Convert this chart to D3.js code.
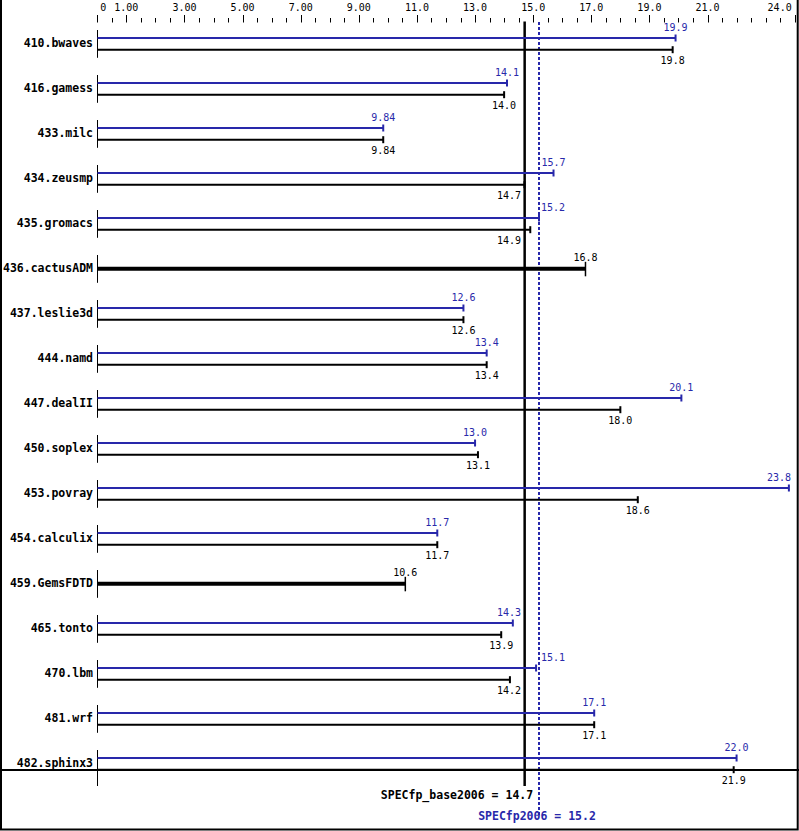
<!DOCTYPE html>
<html><head><meta charset="utf-8">
<script src="https://cdn.jsdelivr.net/npm/d3@7"></script>
<style>html,body{margin:0;padding:0;background:#fff}svg{display:block}</style>
</head><body>
<script>
const benchmarks = ["410.bwaves","416.gamess","433.milc","434.zeusmp","435.gromacs","436.cactusADM","437.leslie3d","444.namd","447.dealII","450.soplex","453.povray","454.calculix","459.GemsFDTD","465.tonto","470.lbm","481.wrf","482.sphinx3"];
const baseValues = [19.8,14.0,9.84,14.7,14.9,16.8,12.6,13.4,18.0,13.1,18.6,11.7,10.6,13.9,14.2,17.1,21.9];
const peakValues = [19.9,14.1,9.84,15.7,15.2,null,12.6,13.4,20.1,13.0,23.8,11.7,null,14.3,15.1,17.1,22.0];
const tickValues = [0,1,3,5,7,9,11,13,15,17,19,21,24];
const tickLabels = ["0","1.00","3.00","5.00","7.00","9.00","11.0","13.0","15.0","17.0","19.0","21.0","24.0"];
const baseMean = 14.7, peakMean = 15.2;
const baseTitle = "SPECfp_base2006 = 14.7";
const peakTitle = "SPECfp2006 = 15.2";

const W = 799, H = 831;
const BLUE = "#2828aa", MONO = "'DejaVu Sans Mono', monospace";
const svg = d3.select("body").append("svg").attr("width", W).attr("height", H);
svg.append("rect").attr("width", W).attr("height", H).attr("fill", "#fff");

const x = d3.scaleLinear().domain([0, 24]).range([97.3, 794.7]);
const y = d3.scalePoint().domain(benchmarks).range([43.3, 763.3]);
const fmt = d3.format(".3r");

// border
svg.append("path").attr("d", `M1,0V829.5H797.7V0`).attr("fill","none").attr("stroke","#000").attr("stroke-width",2);

// top axis ticks
const axisY = 22.5;
svg.append("g").selectAll("line").data(d3.range(0, 24.001, 0.5)).join("line")
  .attr("x1", d => Math.round(x(d)) + 0.5).attr("x2", d => Math.round(x(d)) + 0.5)
  .attr("y1", d => tickValues.includes(d) ? axisY - 7.5 : axisY - 4.5).attr("y2", axisY)
  .attr("stroke", "#000").attr("stroke-width", 1);
svg.append("g").selectAll("text").data(tickValues).join("text")
  .attr("x", (d, i) => i === 0 ? x(d) + 3 : i === tickValues.length - 1 ? x(d) - 3 : x(d))
  .attr("y", 11)
  .attr("text-anchor", (d, i) => i === 0 ? "start" : i === tickValues.length - 1 ? "end" : "middle")
  .attr("font-family", MONO).attr("font-size", 10).attr("fill", "#000")
  .text((d, i) => tickLabels[i]);

// mean lines
const xb = x(baseMean) + 0.2, xp = Math.round(x(peakMean));
svg.append("line").attr("x1", xb).attr("x2", xb).attr("y1", 21.5).attr("y2", 786)
  .attr("stroke", "#000").attr("stroke-width", 2.5);
svg.append("line").attr("x1", xp).attr("x2", xp).attr("y1", 22).attr("y2", 815)
  .attr("stroke", BLUE).attr("stroke-width", 2).attr("stroke-dasharray", "3,2");

// separator
svg.append("line").attr("x1", 0).attr("x2", W).attr("y1", 770).attr("y2", 770)
  .attr("stroke", "#000").attr("stroke-width", 2);

const rows = svg.append("g");
benchmarks.forEach((name, i) => {
  const cy = y(name);
  const g = rows.append("g");
  const last = i === benchmarks.length - 1;
  g.append("line").attr("x1", 97.5).attr("x2", 97.5).attr("y1", cy - 13.3).attr("y2", last ? 786 : cy + 14.5)
    .attr("stroke", "#000").attr("stroke-width", 1);
  g.append("text").attr("x", 93).attr("y", cy + 4).attr("text-anchor", "end")
    .attr("font-family", MONO).attr("font-weight", "bold").attr("font-size", 11.5).attr("fill", "#000").text(name);

  const placeLabel = (t, xe) => {
    const w = t.node().getComputedTextLength();
    let left = xe - w / 2;
    const lo = xb - 3.5, hi = xp + 2;
    if (left < hi && left + w > lo) {
      const shiftL = left + w - lo, shiftR = hi - left;
      left = shiftL <= shiftR ? lo - w : hi;
    }
    if (left + w > 791) left = 791 - w;
    t.attr("x", left).attr("text-anchor", "start");
  };

  const bv = baseValues[i], pv = peakValues[i];
  if (pv == null) {
    const xe = x(bv);
    g.append("line").attr("x1", 97.5).attr("x2", xe).attr("y1", cy + 0.5).attr("y2", cy + 0.5)
      .attr("stroke", "#000").attr("stroke-width", 4);
    g.append("line").attr("x1", xe).attr("x2", xe).attr("y1", cy - 6.5).attr("y2", cy + 8)
      .attr("stroke", "#000").attr("stroke-width", 1.5);
    const t = g.append("text").attr("y", cy - 7).attr("font-family", MONO).attr("font-size", 10)
      .attr("fill", "#000").text(fmt(bv));
    placeLabel(t, xe);
  } else {
    const yp = cy - 5.3, yb = cy + 6.4;
    const xe1 = x(pv), xe2 = x(bv);
    g.append("line").attr("x1", 97.5).attr("x2", xe1).attr("y1", yp).attr("y2", yp)
      .attr("stroke", BLUE).attr("stroke-width", 2);
    g.append("line").attr("x1", xe1).attr("x2", xe1).attr("y1", yp - 3.5).attr("y2", yp + 3.5)
      .attr("stroke", BLUE).attr("stroke-width", 2);
    g.append("line").attr("x1", 97.5).attr("x2", xe2).attr("y1", yb).attr("y2", yb)
      .attr("stroke", "#000").attr("stroke-width", 2);
    g.append("line").attr("x1", xe2).attr("x2", xe2).attr("y1", yb - 3.5).attr("y2", yb + 3.5)
      .attr("stroke", "#000").attr("stroke-width", 2);
    const t1 = g.append("text").attr("y", cy - 12.3).attr("font-family", MONO).attr("font-size", 10)
      .attr("fill", BLUE).text(fmt(pv));
    placeLabel(t1, xe1);
    const t2 = g.append("text").attr("y", cy + 21).attr("font-family", MONO).attr("font-size", 10)
      .attr("fill", "#000").text(fmt(bv));
    placeLabel(t2, xe2);
  }
});

// bottom summary
svg.append("text").attr("x", xb + 8.5).attr("y", 799).attr("text-anchor", "end")
  .attr("font-family", MONO).attr("font-weight", "bold").attr("font-size", 11.5).attr("fill", "#000").text(baseTitle);
svg.append("text").attr("x", xp - 2).attr("y", 820).attr("text-anchor", "middle")
  .attr("font-family", MONO).attr("font-weight", "bold").attr("font-size", 11.5).attr("fill", BLUE).text(peakTitle);
</script>
</body></html>
